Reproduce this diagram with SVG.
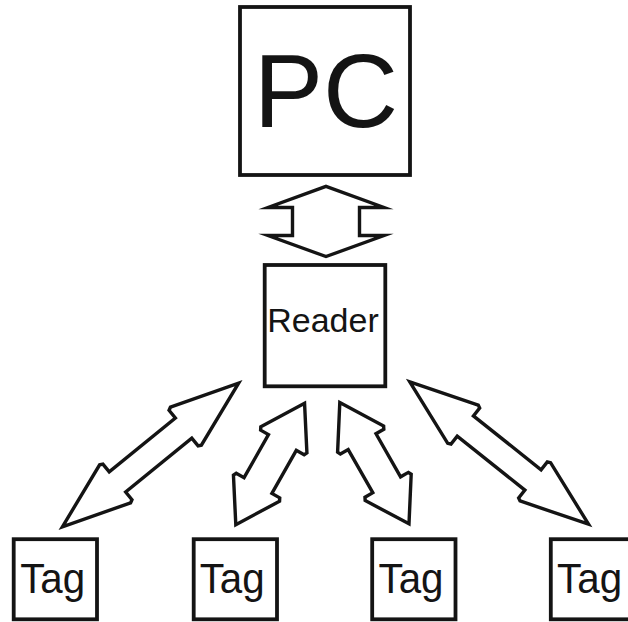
<svg xmlns="http://www.w3.org/2000/svg" width="628" height="622" viewBox="0 0 628 622">
  <style>
    .box { fill: #ffffff; stroke: #141414; stroke-width: 3.8; }
    .arrow { fill: #ffffff; stroke: #141414; stroke-width: 3.4; stroke-linejoin: miter; stroke-miterlimit: 10; }
    .label { font-family: "Liberation Sans", Arial, sans-serif; fill: #141414; text-anchor: middle; }
  </style>
  <rect width="628" height="622" fill="#ffffff"/>

  <!-- double-headed links; the slanted ones are drawn along a local x axis and rotated into place -->
  <g id="connectors">
    <polygon id="link-pc-reader" class="arrow" points="326,186.3 384,207.5 359.5,207.5 359.5,235.5 384,235.5 326,256.5 268,235.5 292.5,235.5 292.5,207.5 268,207.5"/>
    <polygon id="link-tag1" class="arrow" transform="translate(62.4,526.8) rotate(-39.17)" points="0,0 68,-24.5 71,-23 71,-13 156.3,-13 156.3,-23 159.3,-24.5 227.3,0 159.3,24.5 156.3,23 156.3,13 71,13 71,23 68,24.5"/>
    <polygon id="link-tag2" class="arrow" transform="translate(235.8,524.7) rotate(-60.47)" points="0,0 42,-26.5 45,-25 45,-16 94.5,-16 94.5,-25 97.5,-26.5 139.5,0 97.5,26.5 94.5,25 94.5,16 45,16 45,25 42,26.5"/>
    <polygon id="link-tag3" class="arrow" transform="translate(339.8,402.6) rotate(60.29)" points="0,0 42,-26.5 45,-25 45,-16 94.6,-16 94.6,-25 97.6,-26.5 139.6,0 97.6,26.5 94.6,25 94.6,16 45,16 45,25 42,26.5"/>
    <polygon id="link-tag4" class="arrow" transform="translate(409.8,381.8) rotate(38.55)" points="0,0 68,-24.5 71,-23 71,-13 157.5,-13 157.5,-23 160.5,-24.5 228.5,0 160.5,24.5 157.5,23 157.5,13 71,13 71,23 68,24.5"/>
  </g>

  <g id="pc">
    <rect class="box" x="240" y="7" width="170" height="168"/>
    <text class="label" x="326" y="126.7" font-size="104">PC</text>
  </g>

  <g id="reader">
    <rect class="box" x="264.7" y="265" width="120.6" height="121.3"/>
    <text class="label" x="323" y="332" font-size="34">Reader</text>
  </g>

  <g id="tag1">
    <rect class="box" x="13.7" y="539.2" width="83.3" height="80.1"/>
    <text class="label" x="52.7" y="593.3" font-size="42" textLength="65" lengthAdjust="spacingAndGlyphs">Tag</text>
  </g>
  <g id="tag2">
    <rect class="box" x="193.7" y="539.2" width="83.3" height="80.1"/>
    <text class="label" x="232.2" y="593.3" font-size="42" textLength="65" lengthAdjust="spacingAndGlyphs">Tag</text>
  </g>
  <g id="tag3">
    <rect class="box" x="372.2" y="539.2" width="83.3" height="80.1"/>
    <text class="label" x="411" y="593.3" font-size="42" textLength="65" lengthAdjust="spacingAndGlyphs">Tag</text>
  </g>
  <g id="tag4">
    <rect class="box" x="550.8" y="539.2" width="83.3" height="80.1"/>
    <text class="label" x="589.6" y="593.3" font-size="42" textLength="65" lengthAdjust="spacingAndGlyphs">Tag</text>
  </g>
</svg>
